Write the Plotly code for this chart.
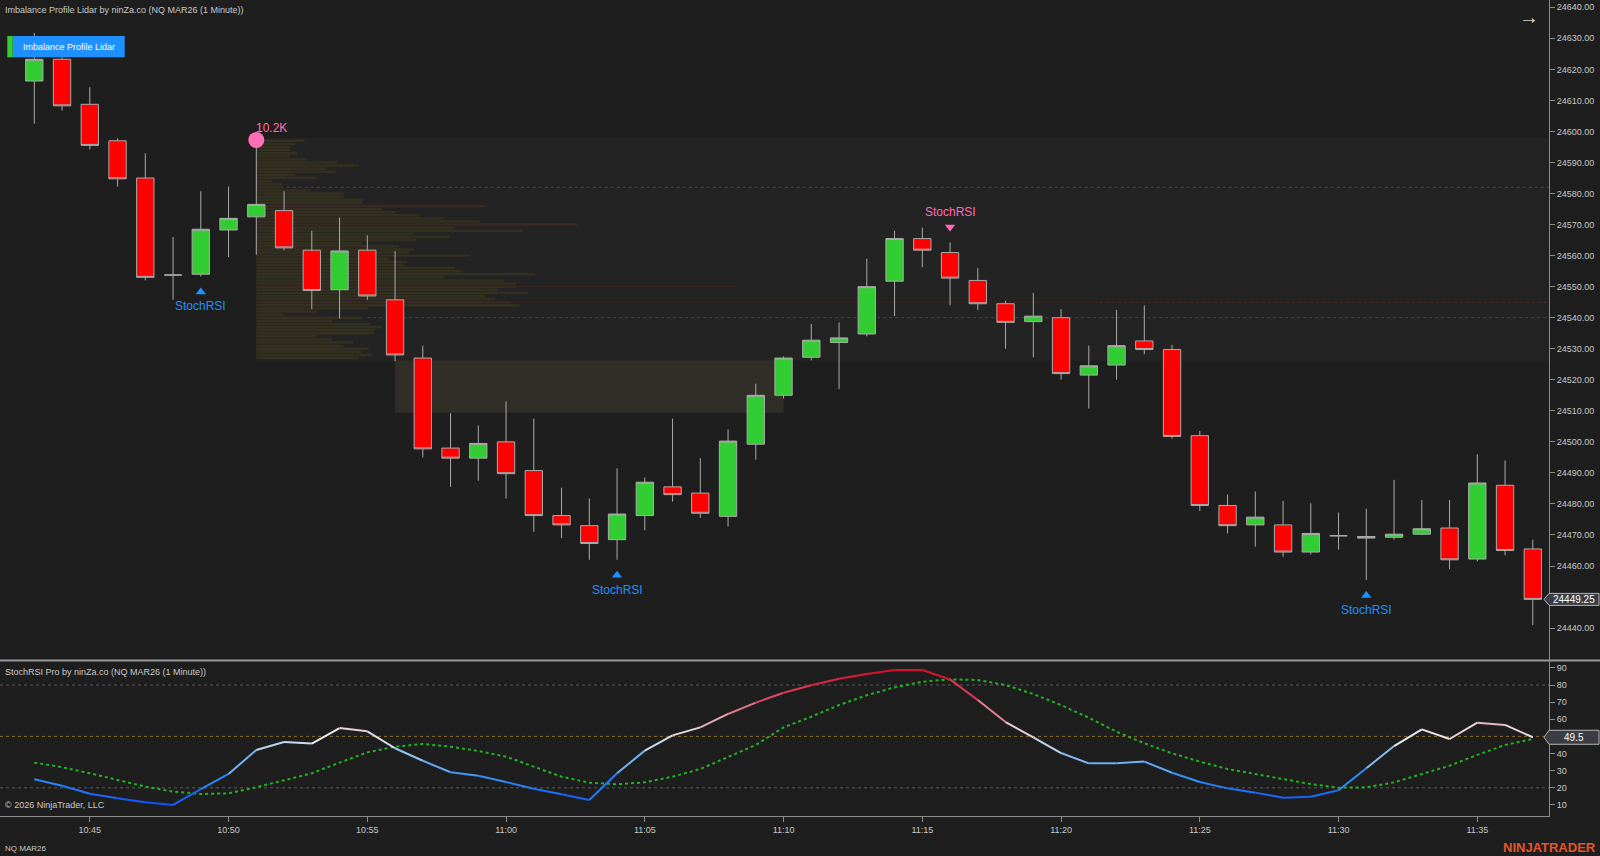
import plotly.graph_objects as go

W, H = 1600, 856

# ---------------- DATA ----------------
minutes = [f"{10 + (43 + k) // 60}:{(43 + k) % 60:02d}" for k in range(55)]  # 10:43 .. 11:37

open_ = [24616.25, 24623.25, 24608.75, 24597.0, 24585.0, 24553.75, 24554.0, 24568.25, 24572.5, 24574.5,
         24561.75, 24549.0, 24561.75, 24545.75, 24527.0, 24498.0, 24494.75, 24500.0, 24490.75, 24476.25,
         24473.0, 24468.5, 24476.25, 24485.5, 24483.5, 24476.0, 24499.25, 24515.0, 24527.25, 24532.0,
         24534.75, 24551.75, 24565.5, 24561.0, 24552.0, 24544.5, 24538.75, 24540.0, 24521.5, 24524.75,
         24532.5, 24529.75, 24502.0, 24479.5, 24473.25, 24473.25, 24464.5, 24469.75, 24469.0, 24469.25,
         24470.25, 24472.25, 24462.25, 24486.0, 24465.5]
high = [24631.75, 24625.0, 24614.25, 24597.75, 24593.0, 24566.0, 24580.75, 24582.25, 24597.25, 24580.75,
        24568.0, 24572.25, 24566.5, 24561.5, 24531.0, 24509.25, 24505.25, 24513.0, 24507.5, 24485.25,
        24481.75, 24491.5, 24488.5, 24507.5, 24494.75, 24504.0, 24518.75, 24527.5, 24538.0, 24538.5,
        24559.0, 24568.0, 24569.0, 24564.25, 24556.0, 24545.5, 24548.0, 24542.75, 24531.0, 24542.5,
        24544.0, 24531.25, 24503.5, 24483.0, 24484.0, 24481.0, 24480.25, 24477.25, 24478.5, 24487.75,
        24481.25, 24481.25, 24496.0, 24494.0, 24468.5]
low = [24602.5, 24606.75, 24594.25, 24582.25, 24552.0, 24545.75, 24553.25, 24559.5, 24560.25, 24561.75,
       24542.75, 24539.75, 24545.75, 24526.0, 24495.0, 24485.5, 24487.5, 24481.75, 24471.0, 24469.0,
       24462.0, 24462.0, 24471.5, 24480.75, 24475.5, 24472.75, 24494.25, 24514.0, 24526.25, 24517.0,
       24534.0, 24540.5, 24556.25, 24544.0, 24542.5, 24530.0, 24527.25, 24520.0, 24510.75, 24520.0,
       24528.25, 24501.0, 24477.75, 24470.5, 24466.25, 24463.0, 24463.75, 24465.25, 24455.5, 24468.5,
       24470.0, 24459.0, 24461.5, 24463.5, 24441.0]
close = [24623.25, 24608.25, 24595.5, 24584.75, 24553.0, 24553.75, 24568.5, 24572.0, 24576.5, 24562.5,
         24548.75, 24561.5, 24547.0, 24528.0, 24497.75, 24494.75, 24499.5, 24489.75, 24476.25, 24473.25,
         24467.25, 24476.75, 24487.0, 24483.0, 24477.0, 24500.25, 24515.0, 24527.0, 24532.75, 24533.5,
         24550.0, 24565.5, 24561.75, 24552.75, 24544.5, 24538.5, 24540.5, 24522.0, 24524.5, 24531.0,
         24529.75, 24501.75, 24479.5, 24473.0, 24475.75, 24464.5, 24470.5, 24469.75, 24469.5, 24470.25,
         24472.0, 24462.0, 24486.75, 24465.0, 24449.25]

stoch_k = [25.0, 21.25, 16.6, 13.9, 11.6, 10.0, 19.3, 28.1, 42.1, 46.7,
           45.8, 54.9, 53.0, 43.1, 35.8, 29.1, 27.1, 23.4, 19.5, 16.2,
           12.9, 28.5, 41.7, 50.6, 55.3, 63.1, 69.7, 75.5, 79.8, 83.7,
           86.4, 88.75, 88.75, 83.3, 71.2, 58.4, 49.5, 40.3, 34.3, 34.3,
           35.3, 28.8, 23.4, 19.7, 17.2, 14.25, 14.8, 18.55, 31.4, 44.4,
           54.1, 48.5, 58.0, 56.7, 49.5]
stoch_d = [34.7, 32.0, 28.5, 24.6, 20.7, 17.8, 16.4, 16.8, 20.3, 24.4,
           28.5, 34.7, 40.7, 44.0, 45.6, 44.0, 41.5, 38.2, 32.3, 26.5,
           23.0, 22.1, 23.2, 26.5, 31.0, 37.8, 45.0, 55.3, 61.5, 68.3,
           74.0, 78.6, 81.9, 83.3, 82.9, 80.0, 74.75, 68.3, 60.9, 52.75,
           46.0, 40.15, 35.3, 31.0, 28.1, 25.0, 22.2, 20.1, 20.3, 23.2,
           27.9, 32.9, 39.2, 45.0, 48.5]

profile_price = [24597 - k for k in range(71)]
profile_volume = [1546, 1248, 1088, 1088, 1334, 1066, 1622, 2582, 3274, 2208,
                  2528, 1248, 1942, 502, 822, 874, 1728, 2794, 2794, 3434,
                  3382, 7350, 4022, 4448, 5216, 5994, 7146, 10262, 6368, 8522,
                  5034, 6186, 5120, 3382, 4554, 5034, 4874, 6848, 4234, 4822,
                  4714, 6368, 6582, 8906, 5994, 7914, 8310, 8320, 7734, 8714,
                  7328, 7648, 8160, 8426, 3574, 1942, 854, 3382, 2422, 3648,
                  4022, 3808, 3754, 1942, 2422, 3094, 2794, 3594, 3382, 3702, 3274]
profile_imbalance_rows = [24576, 24570, 24550, 24545]
profile_start_bar = 8
profile_top, profile_bottom = 24597.9, 24526.1
imbalance_zone = dict(start=13, end=27, top=24526.3, bottom=24509.4)
level_lines = [dict(price=24582.0, start=9.1),
               dict(price=24540.0, start=12.0)]
red_level = dict(price=24545.0, start=8, solid_end=38.4)
red_level2 = dict(price=24550.0, start=8, end=25.4)

buy_signals = [6, 21, 48]
sell_signals = [33]
poc_bar, poc_label = 8, "10.2K"

price_ticks = list(range(24440, 24641, 10))
osc_ticks = [10, 20, 30, 40, 50, 60, 70, 80, 90]
time_tick_labels = ["10:45", "10:50", "10:55", "11:00", "11:05", "11:10",
                    "11:15", "11:20", "11:25", "11:30", "11:35"]

# ---------------- GEOMETRY / STYLE ----------------
BG = "#1e1e1e"
FONT = "Liberation Sans, Arial, sans-serif"
AXC = "#8c8c8c"
TXT = "#c8c8c8"
PLOT_RIGHT = 1549
FIRST_X, SPACING = 34.3, 27.75
MAIN_BOTTOM = 660
OSC_TOP, OSC_BOTTOM = 661, 815.7
PX_PER_PT = 3.104
REF_PRICE, REF_Y = 24640, 7.3
OSC_PX = 1.714

x = list(range(len(close)))
xr = [(0 - FIRST_X) / SPACING, (PLOT_RIGHT - FIRST_X) / SPACING]
yr = [REF_PRICE - (MAIN_BOTTOM - REF_Y) / PX_PER_PT, REF_PRICE + REF_Y / PX_PER_PT]
y2r = [80 - (OSC_BOTTOM - 685) / OSC_PX, 80 + (685 - OSC_TOP) / OSC_PX]


def px(v):
    return v / W


def py(v):
    return 1 - v / H


last_price = close[-1]
last_k = stoch_k[-1]
# ticks hidden behind the value markers
price_ticks_shown = [t for t in price_ticks if abs(t - last_price) * PX_PER_PT > 12]
osc_ticks_shown = [t for t in osc_ticks if abs(t - last_k) * OSC_PX > 12]

fig = go.Figure()

# volume profile bars
scale = 1.0 / (32 * SPACING)
pcolors = ["#3b2923" if p in profile_imbalance_rows else "#34301f" for p in profile_price]
fig.add_trace(go.Bar(y=profile_price, x=[v * scale for v in profile_volume], base=profile_start_bar,
                     orientation="h", width=0.8, marker=dict(color=pcolors, line=dict(width=0)),
                     hoverinfo="skip", xaxis="x", yaxis="y"))

# candles
fig.add_trace(go.Candlestick(x=x, open=open_, high=high, low=low, close=close,
                             increasing=dict(fillcolor="#32CD32", line=dict(color="#ababab", width=1)),
                             decreasing=dict(fillcolor="#FF0000", line=dict(color="#ababab", width=1)),
                             whiskerwidth=0, hoverinfo="skip", xaxis="x", yaxis="y"))

# signals
fig.add_trace(go.Scatter(x=buy_signals, y=[low[i] - 5 for i in buy_signals], mode="markers",
                         marker=dict(symbol="triangle-up", size=9, color="#1e90ff"), hoverinfo="skip"))
fig.add_trace(go.Scatter(x=sell_signals, y=[high[i] + 5 for i in sell_signals], mode="markers",
                         marker=dict(symbol="triangle-down", size=9, color="#ff69b4"), hoverinfo="skip"))
fig.add_trace(go.Scatter(x=[poc_bar], y=[high[poc_bar]], mode="markers",
                         marker=dict(symbol="circle", size=16, color="#ff6fb5"), hoverinfo="skip"))

# oscillator
stops = [(10, (15, 80, 255)), (25, (45, 140, 245)), (40, (150, 195, 240)), (50, (235, 235, 240)),
         (60, (228, 165, 180)), (72, (215, 75, 105)), (88, (220, 15, 45))]


def grad(v):
    if v <= stops[0][0]:
        c = stops[0][1]
    elif v >= stops[-1][0]:
        c = stops[-1][1]
    else:
        for (a, ca), (b, cb) in zip(stops[:-1], stops[1:]):
            if a <= v <= b:
                t = (v - a) / (b - a)
                c = tuple(ca[j] + (cb[j] - ca[j]) * t for j in range(3))
                break
    return "rgb(%d,%d,%d)" % tuple(int(round(z)) for z in c)


fig.add_trace(go.Scatter(x=x, y=stoch_d, mode="lines", line=dict(color="#22b322", width=2, dash="dot"),
                         xaxis="x2", yaxis="y2", hoverinfo="skip"))
for k in range(len(stoch_k) - 1):
    fig.add_trace(go.Scatter(x=[x[k], x[k + 1]], y=[stoch_k[k], stoch_k[k + 1]], mode="lines",
                             line=dict(color=grad((stoch_k[k] + stoch_k[k + 1]) / 2), width=2),
                             xaxis="x2", yaxis="y2", hoverinfo="skip"))

shapes = []
# profile background & imbalance zone
shapes.append(dict(type="rect", xref="x", yref="y", x0=profile_start_bar, x1=xr[1], y0=profile_bottom,
                   y1=profile_top, fillcolor="#232323", line=dict(width=0), layer="below"))
shapes.append(dict(type="rect", xref="x", yref="y", x0=imbalance_zone["start"], x1=imbalance_zone["end"],
                   y0=imbalance_zone["bottom"], y1=imbalance_zone["top"], fillcolor="#302e26",
                   line=dict(width=0), layer="below"))
for lv in level_lines:
    shapes.append(dict(type="line", xref="x", yref="y", x0=lv["start"], x1=xr[1], y0=lv["price"], y1=lv["price"],
                       line=dict(color="#4d4530", width=1, dash="dot"), layer="below"))
shapes.append(dict(type="line", xref="x", yref="y", x0=red_level["start"], x1=red_level["solid_end"],
                   y0=red_level["price"], y1=red_level["price"], line=dict(color="#3a2420", width=1), layer="below"))
shapes.append(dict(type="line", xref="x", yref="y", x0=red_level["solid_end"], x1=xr[1],
                   y0=red_level["price"], y1=red_level["price"], line=dict(color="#552a25", width=1, dash="dot"),
                   layer="below"))
shapes.append(dict(type="line", xref="x", yref="y", x0=red_level2["start"], x1=red_level2["end"],
                   y0=red_level2["price"], y1=red_level2["price"], line=dict(color="#3a2420", width=1), layer="below"))
# oscillator levels
for lvl, col in [(80, "#5a5a5a"), (20, "#5a5a5a"), (50, "#8a6a2a")]:
    shapes.append(dict(type="line", xref="x2", yref="y2", x0=xr[0], x1=xr[1], y0=lvl, y1=lvl,
                       line=dict(color=col, width=1, dash="dot"), layer="below"))
# panel separator
shapes.append(dict(type="line", xref="paper", yref="paper", x0=0, x1=1, y0=py(660.5), y1=py(660.5),
                   line=dict(color="#9a9a9a", width=2)))
# legend box
shapes.append(dict(type="rect", xref="paper", yref="paper", x0=px(12.7), x1=px(124.7), y0=py(57.3), y1=py(36),
                   fillcolor="#1e90ff", line=dict(width=0)))
shapes.append(dict(type="rect", xref="paper", yref="paper", x0=px(7.3), x1=px(12.7), y0=py(57.3), y1=py(36),
                   fillcolor="#32CD32", line=dict(width=0)))


# value markers on axes
def marker_path(val, half):
    return (f"M {px(1544)},{val} L {px(1549)},{val + half} L {px(1599)},{val + half} "
            f"L {px(1599)},{val - half} L {px(1549)},{val - half} Z")


shapes.append(dict(type="path", xref="paper", yref="y", path=marker_path(last_price, 6 / PX_PER_PT),
                   fillcolor="#3c3c44", line=dict(color="#b4b4b4", width=1)))
shapes.append(dict(type="path", xref="paper", yref="y2", path=marker_path(last_k, 7 / OSC_PX),
                   fillcolor="#3c3c44", line=dict(color="#b4b4b4", width=1)))

ann = []


def text(xp, yp, s, size=9, color=TXT, xanchor="left", **kw):
    ann.append(dict(xref="paper", yref="paper", x=px(xp), y=py(yp), text=s, showarrow=False,
                    xanchor=xanchor, yanchor="middle", font=dict(family=FONT, size=size, color=color), **kw))


text(3, 10, "Imbalance Profile Lidar by ninZa.co (NQ MAR26 (1 Minute))")
text(68.7, 46.6, "Imbalance Profile Lidar", size=9, color="#ffffff", xanchor="center")
text(3, 671.5, "StochRSI Pro by ninZa.co (NQ MAR26 (1 Minute))")
text(3, 805, "© 2026 NinjaTrader, LLC")
text(3, 848, "NQ MAR26", size=8)
text(1598, 847, "<b>NINJATRADER</b>", size=13, color="#e8542a", xanchor="right")
text(1529, 17, "→", size=20, color="#d8d8d8", xanchor="center")

ann.append(dict(xref="paper", yref="y", x=px(1574), y=last_price, text=f"{last_price:.2f}", showarrow=False,
                xanchor="center", yanchor="middle", font=dict(family=FONT, size=10, color="#ffffff")))
ann.append(dict(xref="paper", yref="y2", x=px(1574), y=last_k, text=f"{last_k:.1f}", showarrow=False,
                xanchor="center", yanchor="middle", font=dict(family=FONT, size=10, color="#ffffff")))

for i in buy_signals:
    ann.append(dict(xref="x", yref="y", x=i, y=low[i] - 9.6, text="StochRSI", showarrow=False,
                    xanchor="center", yanchor="middle", font=dict(family=FONT, size=12, color="#1e90ff")))
for i in sell_signals:
    ann.append(dict(xref="x", yref="y", x=i, y=high[i] + 9.8, text="StochRSI", showarrow=False,
                    xanchor="center", yanchor="middle", font=dict(family=FONT, size=12, color="#ff69b4")))
ann.append(dict(xref="x", yref="y", x=poc_bar, y=high[poc_bar], text=poc_label, showarrow=False,
                xanchor="left", yanchor="middle", yshift=12, xshift=-2,
                font=dict(family=FONT, size=12, color="#ff6fb5")))

time_tick_vals = [minutes.index(t) for t in time_tick_labels]

fig.update_layout(
    width=W, height=H, margin=dict(l=0, r=0, t=0, b=0),
    paper_bgcolor=BG, plot_bgcolor=BG, showlegend=False,
    boxgap=0.376, boxgroupgap=0,
    font=dict(family=FONT, color=TXT),
    xaxis=dict(domain=[0, PLOT_RIGHT / W], range=xr, showticklabels=False, showgrid=False, zeroline=False,
               showline=False, ticks="", rangeslider=dict(visible=False), fixedrange=True),
    yaxis=dict(domain=[py(MAIN_BOTTOM), 1], range=yr, side="right", tickvals=price_ticks_shown,
               ticktext=[f"{t:.2f}" for t in price_ticks_shown], ticks="outside", ticklen=5, tickcolor=AXC,
               showline=True, linecolor=AXC, linewidth=1, showgrid=False, zeroline=False,
               tickfont=dict(family=FONT, size=9, color=TXT)),
    xaxis2=dict(domain=[0, PLOT_RIGHT / W], range=xr, anchor="y2", tickvals=time_tick_vals,
                ticktext=time_tick_labels, ticks="outside", ticklen=5, tickcolor=AXC, showline=True,
                linecolor=AXC, linewidth=1, showgrid=False, zeroline=False,
                tickfont=dict(family=FONT, size=9, color=TXT)),
    yaxis2=dict(domain=[py(OSC_BOTTOM), py(OSC_TOP)], range=y2r, anchor="x2", side="right",
                tickvals=osc_ticks_shown, ticktext=[str(t) for t in osc_ticks_shown], ticks="outside", ticklen=5,
                tickcolor=AXC, showline=True, linecolor=AXC, linewidth=1, showgrid=False, zeroline=False,
                tickfont=dict(family=FONT, size=9, color=TXT)),
    shapes=shapes, annotations=ann,
)

fig.write_html("out.html")
